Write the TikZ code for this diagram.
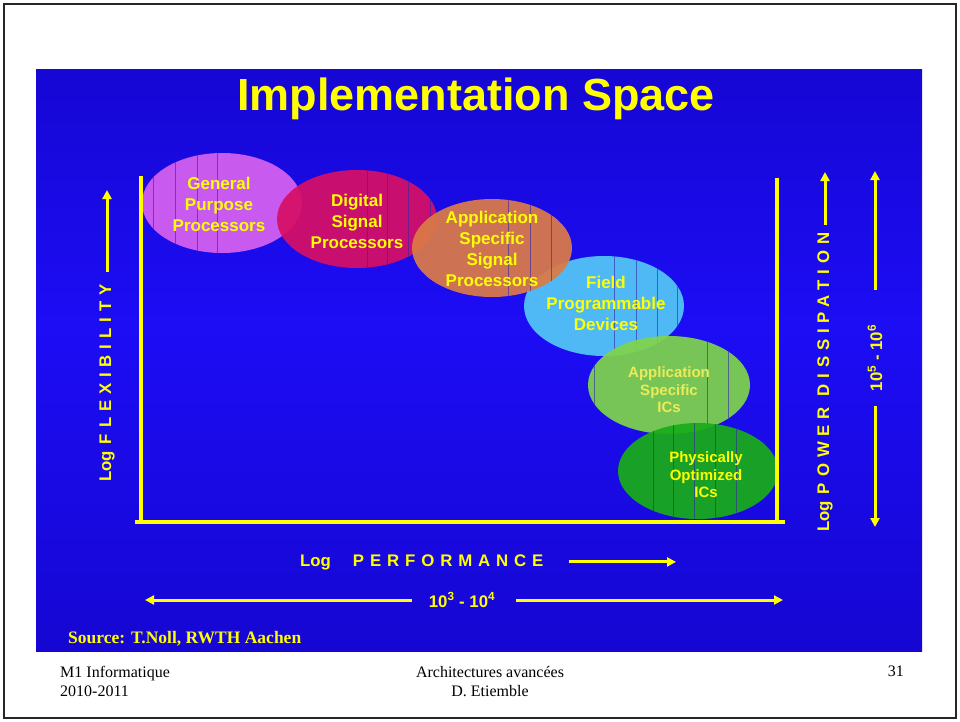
\documentclass[tikz,border=0pt]{standalone}
\usepackage{fontspec}
\setmainfont{Liberation Serif}
\setsansfont{Liberation Sans}
\newfontfamily\spacedsans{Liberation Sans}[LetterSpace=35]
\usepackage{tikz}
\usetikzlibrary{arrows.meta}
\definecolor{panel top}{rgb}{0.05, 0.0, 0.46}
\definecolor{panel deep}{rgb}{0.08, 0.02, 0.80}
\definecolor{panel mid}{rgb}{0.11, 0.05, 0.96}
\definecolor{panel bottom}{rgb}{0.06, 0.0, 0.58}
\definecolor{slide yellow}{rgb}{1.0, 1.0, 0.0}
\definecolor{pale yellow}{rgb}{0.92, 0.92, 0.35}
\definecolor{gpp violet}{rgb}{0.84, 0.38, 0.94}
\definecolor{dsp crimson}{rgb}{0.84, 0.06, 0.40}
\definecolor{assp orange}{rgb}{0.86, 0.48, 0.28}
\definecolor{fpd sky}{rgb}{0.32, 0.78, 0.96}
\definecolor{asic lime}{rgb}{0.50, 0.83, 0.30}
\definecolor{poic green}{rgb}{0.10, 0.68, 0.10}
\definecolor{stripe blue}{rgb}{0.20, 0.15, 0.65}
\pgfdeclareverticalshading{panel slide}{100bp}{color(0bp)=(panel bottom); color(20bp)=(panel deep); color(53bp)=(panel mid); color(80bp)=(panel deep); color(100bp)=(panel top)}
\tikzset{
	axis line/.style = {line width=4pt, color=slide yellow},
	axis arrow/.style = {line width=3pt, color=slide yellow, -{Triangle[length=9pt, width=9pt]}},
	axis label/.style = {text=slide yellow, inner sep=0pt, font=\sffamily\bfseries\fontsize{16.8}{20}\selectfont},
	blob/.style = {fill opacity=0.93},
	texture line/.style = {line width=0.8pt, color=stripe blue, opacity=0.6},
	blob text/.style = {text=slide yellow, align=center, inner sep=0pt, font=\sffamily\bfseries\fontsize{17}{21}\selectfont},
	small blob text/.style = {blob text, font=\sffamily\bfseries\fontsize{15}{17.5}\selectfont},
	footer/.style = {inner sep=0pt, font=\fontsize{16}{19}\selectfont}
}

\begin{document}
\begin{tikzpicture}[x=1pt, y=-1pt]
			\useasboundingbox (0,0) rectangle (960,721);
			% page frame
			\draw[line width=2pt, color=black!85] (4,4) rectangle (956,718);
			% part for the blue panel
			\shade[shading=panel slide] (36,69) rectangle (922,651);
			% part for General Purpose Processors
			\begin{scope}
				\fill[blob, color = gpp violet] (222,203) ellipse [x radius=80pt, y radius=50pt];
				\clip (222,203) ellipse [x radius=80pt, y radius=50pt];
				\foreach \x in {153,175,197,217} \draw[texture line] (\x,150) -- (\x,255);
			\end{scope}
			% part for Digital Signal Processors
			\begin{scope}
				\fill[blob, color = dsp crimson] (357,219) ellipse [x radius=80pt, y radius=49pt];
				\clip (357,219) ellipse [x radius=80pt, y radius=49pt];
				\foreach \x in {367,387,408,430} \draw[texture line] (\x,168) -- (\x,270);
			\end{scope}
			% part for Field Programmable Devices
			\begin{scope}
				\fill[blob, color = fpd sky] (604,306) ellipse [x radius=80pt, y radius=50pt];
				\clip (604,306) ellipse [x radius=80pt, y radius=50pt];
				\foreach \x in {614,636,657,677} \draw[texture line] (\x,254) -- (\x,358);
			\end{scope}
			% part for Application Specific Signal Processors
			\begin{scope}
				\fill[blob, color = assp orange] (492,248) ellipse [x radius=80pt, y radius=49pt];
				\clip (492,248) ellipse [x radius=80pt, y radius=49pt];
				\foreach \x in {508,530,551} \draw[texture line] (\x,197) -- (\x,300);
			\end{scope}
			% part for Application Specific ICs
			\begin{scope}
				\fill[blob, color = asic lime] (669,385) ellipse [x radius=81pt, y radius=49pt];
				\clip (669,385) ellipse [x radius=81pt, y radius=49pt];
				\foreach \x in {594,707,728} \draw[texture line] (\x,334) -- (\x,436);
			\end{scope}
			% part for Physically Optimized ICs
			\begin{scope}
				\fill[blob, color = poic green] (698,471) ellipse [x radius=80pt, y radius=48pt];
				\clip (698,471) ellipse [x radius=80pt, y radius=48pt];
				\foreach \x in {653,673,694,715,736} \draw[texture line] (\x,421) -- (\x,521);
			\end{scope}
			% texts of the ellipses
			\node[blob text] (gpp) at (219,204) {General\\Purpose\\Processors};
			\node[blob text] (dsp) at (357,221) {Digital\\Signal\\Processors};
			\node[blob text] (assp) at (492,249) {Application\\Specific\\Signal\\Processors};
			\node[blob text] (fpd) at (606,303) {Field\\Programmable\\Devices};
			\node[small blob text, text=pale yellow] (asic) at (669,390) {Application\\Specific\\ICs};
			\node[small blob text] (poic) at (706,475) {Physically\\Optimized\\ICs};
			% title
			\node[text=slide yellow, inner sep=0pt, anchor=base, font=\sffamily\bfseries\fontsize{45}{54}\selectfont] (title) at (476,110) {Implementation Space};
			% outline of the axes
			\draw[axis line] 
				(141,176) -- (141,522) 
				(135,522) -- (785,522) 
				(777,178) -- (777,522);
			% axis labels
			\node[axis label, rotate=90, anchor=west] (flexibility) at (107,482) {Log\hspace{7pt}{\spacedsans FLEXIBILITY}};
			\coordinate (flexibility tip) at (107,190);
			\draw[axis arrow] ([yshift=12pt]flexibility.east) -- (flexibility.east |- flexibility tip);
			\node[axis label, rotate=90, anchor=west] (power) at (825,532) {Log\hspace{7pt}{\spacedsans POWER DISSIPATION}};
			\coordinate (power tip) at (825,172);
			\draw[axis arrow] ([yshift=8pt]power.east) -- (power.east |- power tip);
			\node[axis label, anchor=base west] (performance) at (300,566) {Log\hspace{22pt}{\spacedsans PERFORMANCE}};
			\coordinate (performance tip) at (676,562);
			\draw[axis arrow] ([xshift=25pt]performance.east) -- (performance tip |- performance.east);
			% ranges
			\node[axis label] (performance range) at (462,600) {10\textsuperscript{3} - 10\textsuperscript{4}};
			\coordinate (performance low) at (145,600);
			\coordinate (performance high) at (783,600);
			\draw[axis arrow] ([xshift=-17pt]performance range.west) -- (performance low |- performance range.west);
			\draw[axis arrow] ([xshift=21pt]performance range.east) -- (performance high |- performance range.east);
			\node[axis label, rotate=90] (power range) at (875,358) {10\textsuperscript{5} - 10\textsuperscript{6}};
			\coordinate (power low) at (875,527);
			\coordinate (power high) at (875,171);
			\draw[axis arrow] ([yshift=35pt]power range.east) -- (power range.east |- power high);
			\draw[axis arrow] ([yshift=-15pt]power range.west) -- (power range.west |- power low);
			% source and footer
			\node[text=slide yellow, inner sep=0pt, anchor=base west, font=\bfseries\fontsize{17.5}{21}\selectfont] (source) at (68,643) {Source: T.Noll, RWTH Aachen};
			\node[footer, align=left, anchor=north west] (course) at (60,666) {M1 Informatique\\2010-2011};
			\node[footer, align=center, anchor=north] (lecture) at (490,666) {Architectures avancées\\D. Etiemble};
			\node[footer, anchor=north east] (page number) at (904,666) {31};
		\end{tikzpicture}
\end{document}
